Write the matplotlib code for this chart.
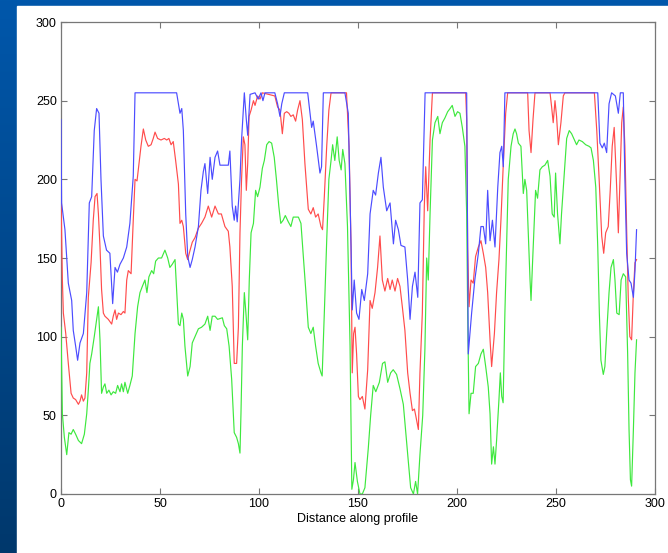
import matplotlib
matplotlib.use("Agg")
import matplotlib.pyplot as plt
import numpy as np
from matplotlib.patches import Rectangle
from matplotlib.colors import LinearSegmentedColormap

plt.rcParams['font.family'] = ['Liberation Sans', 'DejaVu Sans']

# (distance, intensity)
blue_profile = [
    (0, 238), (0.3, 185), (2.0, 168), (3.7, 134), (5.4, 123), (6.2, 104), (7.4, 94), (8.4, 85),
    (9.6, 96), (11.3, 102), (13, 128), (14.3, 185), (15.5, 189), (16.8, 231), (18, 245), (19.2, 242),
    (20.2, 200), (21.4, 164), (23, 155), (24.7, 153), (26.1, 121), (27.3, 144), (28.5, 141),
    (29.8, 146), (31.5, 150), (33.2, 157), (34.8, 172), (36.5, 202), (37.4, 255), (58.4, 255),
    (60.1, 242), (61, 245), (61.8, 231), (63, 178), (64, 151), (65.2, 144), (66.3, 149), (67.7, 157),
    (69.4, 170), (70.7, 193), (71.9, 205), (72.7, 210), (74.1, 191), (75.3, 214), (76.4, 200),
    (77.8, 214), (79.1, 218), (80.3, 209), (84.5, 209), (85.3, 218), (86.5, 183), (87.5, 174),
    (88.2, 183), (89, 173), (90.4, 200), (91.2, 225), (92.6, 255), (93.6, 238), (94.3, 228),
    (95.5, 254), (98, 255), (99.6, 251), (101, 255), (102, 250), (103, 255), (108, 255),
    (109.4, 248), (110.6, 240), (111.5, 248), (112.8, 255), (124.6, 255), (125.8, 242), (126.6, 233),
    (127.4, 237), (129.1, 221), (130.8, 204), (131.6, 208), (132.5, 255), (143.4, 255), (145.1, 242),
    (146.5, 157), (147.1, 117), (148.1, 136), (149.3, 115), (150.5, 111), (151.9, 130), (153.2, 123),
    (154.9, 140), (156.1, 178), (157.7, 193), (158.9, 190), (160.3, 204), (161.6, 214), (162.8, 195),
    (164.5, 180), (166.2, 185), (167.9, 159), (169, 174), (170.4, 168), (171.7, 158), (173.7, 157),
    (175.1, 136), (176.3, 111), (177.5, 132), (178.8, 141), (180.2, 125), (181.3, 185), (182.5, 187),
    (183.9, 255), (204.9, 255), (205.4, 157), (205.7, 89), (207.4, 115), (209, 136), (210.8, 153),
    (212.1, 170), (213.3, 170), (214.5, 159), (215.5, 193), (216.7, 161), (217.9, 174), (219.2, 157),
    (220.6, 195), (221.7, 217), (222.6, 221), (223.4, 208), (224.2, 255), (271.1, 255), (272.2, 223),
    (273.4, 220), (274.4, 223), (275.6, 217), (276.8, 248), (278.1, 255), (280, 253), (281.5, 242),
    (282.5, 255), (284, 255), (284.8, 200), (285.7, 153), (286.9, 136), (287.9, 134), (289.1, 125),
    (289.9, 142), (290.7, 168),
]

red_profile = [
    (0, 190), (0.7, 136), (1.2, 115), (2.4, 102), (3.7, 83), (5.1, 64), (6.2, 61), (7.4, 60),
    (8.8, 57), (9.6, 59), (10.4, 63), (11.3, 59), (12.1, 61), (13, 77), (13.8, 125), (15.2, 147),
    (16.3, 174), (17.2, 189), (18.2, 191), (18.9, 178), (19.7, 157), (20.5, 130), (21.4, 115),
    (22.2, 113), (23.9, 111), (25.6, 108), (26.4, 113), (27.3, 117), (28.1, 111), (29, 115),
    (30.3, 114), (31.5, 116), (32.3, 115), (33.2, 136), (34, 142), (35.4, 140), (36.5, 174),
    (37.4, 200), (38.4, 199), (39.4, 210), (40.4, 221), (41.6, 232), (42.8, 225), (44.1, 221),
    (45.5, 222), (46.6, 226), (47.5, 230), (48.8, 226), (50.5, 225), (52.2, 226), (53.4, 225),
    (54.5, 226), (55.6, 222), (56.7, 224), (57.9, 212), (59.3, 197), (60.1, 172), (61, 174),
    (61.8, 170), (63, 153), (64, 149), (65.2, 155), (66.3, 160), (67.7, 163), (69.4, 169), (71, 172),
    (72.7, 176), (74.4, 183), (76.1, 176), (77.8, 183), (79.5, 178), (81, 178), (82.8, 170),
    (84.5, 167), (85.3, 157), (86.5, 132), (87.5, 83), (88.7, 83), (89.6, 106), (90.4, 166),
    (91.2, 200), (92.1, 227), (92.9, 222), (93.6, 193), (94.3, 210), (95, 240), (96, 244),
    (97.2, 250), (98, 247), (99.3, 253), (100.5, 251), (101.7, 255), (108, 253), (109.4, 246),
    (110.6, 244), (111.8, 229), (112.8, 242), (114, 243), (115.1, 242), (116.1, 240), (117.3, 241),
    (118.5, 237), (119.5, 244), (120.7, 250), (121.9, 238), (123.2, 210), (124.9, 181), (126.2, 178),
    (127.4, 182), (128.6, 176), (129.9, 178), (131.3, 170), (132.1, 168), (133, 189), (134.2, 221),
    (135.3, 244), (136.4, 255), (144.2, 255), (145.5, 221), (146.5, 157), (147.1, 77), (147.8, 102),
    (148.5, 106), (149.3, 89), (150.2, 62), (151, 60), (152.2, 62), (153.5, 54), (154.9, 79),
    (156.1, 123), (157.2, 118), (158.6, 128), (159.9, 144), (161.1, 164), (162.3, 136), (163.6, 129),
    (165, 137), (166.2, 130), (167.3, 136), (168.7, 129), (170, 137), (171.2, 132), (172.4, 119),
    (173.7, 104), (175.1, 77), (176.3, 64), (177.5, 53), (178.5, 54), (179.3, 49), (180.5, 41),
    (181.3, 77), (182.5, 115), (183.5, 183), (184.2, 208), (185.2, 180), (186.4, 225), (187.6, 255),
    (204.4, 255), (204.9, 238), (205.4, 157), (206.1, 119), (207.1, 136), (208.2, 134), (209.4, 151),
    (210.8, 157), (212.1, 161), (213.3, 153), (214.5, 144), (215.5, 128), (216.7, 98), (217.5, 81),
    (218.9, 102), (220, 128), (221.2, 149), (222.2, 174), (223.4, 210), (224.6, 242), (225.6, 255),
    (235.7, 255), (236.4, 231), (237.4, 217), (238.4, 238), (239.4, 255), (247, 255), (247.8, 246),
    (248.6, 236), (249.5, 250), (250.3, 240), (251.2, 222), (252.5, 236), (253.7, 253), (254.5, 255),
    (269.4, 255), (270.6, 231), (271.8, 200), (273.1, 164), (274.1, 153), (275.1, 166), (276.4, 170),
    (277.4, 193), (278.4, 221), (279.4, 233), (280.5, 200), (281.5, 166), (282.3, 200), (283.2, 236),
    (284, 246), (284.8, 221), (285.7, 168), (286.5, 125), (287.3, 100), (288.2, 98), (289.1, 128),
    (289.9, 147), (290.7, 149),
]

green_profile = [
    (0, 106), (0.7, 51), (1.7, 36), (2.9, 25), (4, 39), (5.1, 38), (6.2, 41), (7.4, 38), (8.8, 34),
    (10.4, 32), (11.8, 38), (13, 51), (13.8, 66), (14.6, 83), (15.5, 89), (16.8, 100), (18, 111),
    (18.9, 119), (19.7, 98), (20.5, 64), (21.4, 68), (22.2, 70), (23.1, 64), (24.2, 66), (25.3, 63),
    (26.4, 65), (27.6, 64), (28.6, 69), (29.8, 65), (30.6, 70), (31.5, 65), (32.3, 71), (33.7, 64),
    (34.8, 69), (36, 75), (37.4, 102), (38.7, 119), (39.9, 128), (41.1, 132), (42.4, 136),
    (43.4, 128), (44.4, 138), (45.8, 142), (46.8, 140), (47.8, 148), (49.2, 150), (50.8, 150),
    (52.5, 155), (53.9, 150), (55, 144), (56.2, 146), (57.6, 149), (58.4, 130), (59.3, 108),
    (60.1, 107), (61, 115), (61.8, 111), (62.6, 94), (64, 75), (65.2, 81), (66.3, 96), (67.7, 100),
    (69.4, 105), (71, 106), (72.7, 108), (74.1, 113), (75.3, 104), (76.4, 113), (77.8, 113),
    (79.1, 111), (81.5, 112), (82.5, 107), (83.7, 105), (84.9, 94), (86.2, 73), (87.5, 39),
    (88.7, 36), (89.6, 32), (90.4, 26), (90.9, 51), (91.6, 94), (92.6, 128), (93.4, 115), (94.3, 98),
    (95.1, 136), (96, 166), (97.2, 172), (98.3, 193), (99.3, 189), (100.5, 195), (101.7, 207),
    (102.7, 212), (103.9, 222), (105.1, 224), (106.4, 223), (107.7, 214), (108.8, 200), (110, 183),
    (111, 172), (112.2, 174), (113.3, 177), (114.8, 173), (116.1, 170), (117.3, 176), (118.5, 176),
    (119.9, 176), (121.2, 172), (122.4, 151), (123.6, 130), (124.9, 106), (126.2, 102), (127.4, 106),
    (128.6, 94), (129.9, 83), (131.3, 77), (131.9, 75), (133, 115), (134.2, 161), (135.3, 200),
    (136.4, 212), (137.2, 222), (138.3, 212), (139.5, 227), (140.5, 212), (141.5, 206), (142.3, 219),
    (143.4, 210), (144.7, 170), (146, 94), (146.9, 3), (147.7, 9), (148.5, 20), (149.7, 8), (151, 0),
    (152.2, 0), (153.5, 4), (155.2, 29), (156.4, 50), (157.7, 69), (159, 65), (160.8, 71),
    (162.4, 83), (163.6, 84), (165, 71), (166.5, 77), (167.8, 79), (169.5, 76), (171.2, 67),
    (172.9, 57), (174.2, 38), (175.4, 21), (176.6, 4), (178, 0), (179.1, 8), (180.1, 0), (181.3, 25),
    (182.7, 50), (183.8, 92), (184.7, 150), (185.5, 136), (186.4, 178), (187.6, 225), (188.9, 236),
    (190.3, 240), (191.4, 229), (192.6, 236), (193.9, 239), (195.3, 243), (196.5, 245), (197.6, 247),
    (199, 240), (200.3, 243), (201.5, 242), (202.7, 233), (204, 221), (204.9, 178), (205.4, 115),
    (206.1, 51), (207.1, 64), (208.2, 64), (209.4, 81), (210.8, 83), (212.1, 89), (213.3, 92),
    (214.5, 81), (215.8, 68), (216.7, 51), (217.5, 19), (218.4, 30), (219.2, 19), (220, 34),
    (221.2, 60), (221.9, 77), (222.6, 62), (223.3, 58), (224.2, 115), (225.9, 200), (227.3, 221),
    (228.4, 229), (229.3, 232), (230.1, 229), (231, 223), (232.3, 221), (233.5, 191), (234.3, 200),
    (235.2, 193), (236, 166), (236.9, 136), (237.4, 123), (238.1, 145), (239.1, 174), (239.7, 193),
    (240.7, 188), (241.9, 206), (243.1, 208), (244.4, 209), (245.8, 212), (247, 202), (248.1, 178),
    (249.1, 176), (249.8, 204), (250.8, 178), (252, 159), (252.8, 178), (254.2, 204), (255.4, 226),
    (256.7, 231), (257.9, 229), (259.3, 225), (260.4, 222), (261.6, 225), (263.3, 224), (265, 222),
    (266.7, 221), (267.7, 220), (268.9, 212), (270.1, 195), (271.1, 157), (271.9, 115), (272.7, 85),
    (273.9, 76), (274.7, 81), (275.6, 102), (276.8, 128), (277.8, 144), (279, 149), (279.8, 136),
    (280.7, 115), (281.9, 114), (282.9, 136), (284, 140), (285.2, 138), (286.2, 89), (286.9, 41),
    (287.6, 9), (288.2, 5), (289.1, 41), (289.9, 77), (290.7, 98),
]

x_ticks = [0, 50, 100, 150, 200, 250, 300]
y_ticks = [0, 50, 100, 150, 200, 250, 300]

fig = plt.figure(figsize=(6.68, 5.53), dpi=100)

# slide background: blue gradient with a white panel
bg = fig.add_axes([0, 0, 1, 1], zorder=-2)
slide = LinearSegmentedColormap.from_list('slide', ['#0057ab', '#00386c'])
bg.imshow(np.linspace(0, 1, 256).reshape(-1, 1), aspect='auto', cmap=slide,
          extent=[0, 1, 0, 1])
bg.add_patch(Rectangle((17 / 668, 0), 1, 1 - 6 / 553, color='white',
                       transform=bg.transAxes))
bg.set_xlim(0, 1)
bg.set_ylim(0, 1)
bg.axis('off')

ax = fig.add_axes([0.0913, 0.1067, 0.8892, 0.8535])
for prof, col in [(red_profile, '#ff4c4c'), (green_profile, '#3ee83e'), (blue_profile, '#4c4cff')]:
    d, v = zip(*prof)
    ax.plot(d, v, color=col, linewidth=0.85, zorder=3)

ax.set_xlim(0, 300)
ax.set_ylim(0, 300)
ax.set_xticks(x_ticks)
ax.set_yticks(y_ticks)
ax.tick_params(direction='in', top=True, right=True, length=4, width=0.8,
               color='#777777', labelsize=9, pad=3)
for sp in ax.spines.values():
    sp.set_color('#777777')
    sp.set_linewidth(0.9)
ax.set_xlabel('Distance along profile', fontsize=9, labelpad=2)

fig.savefig('out.png', dpi=100)
